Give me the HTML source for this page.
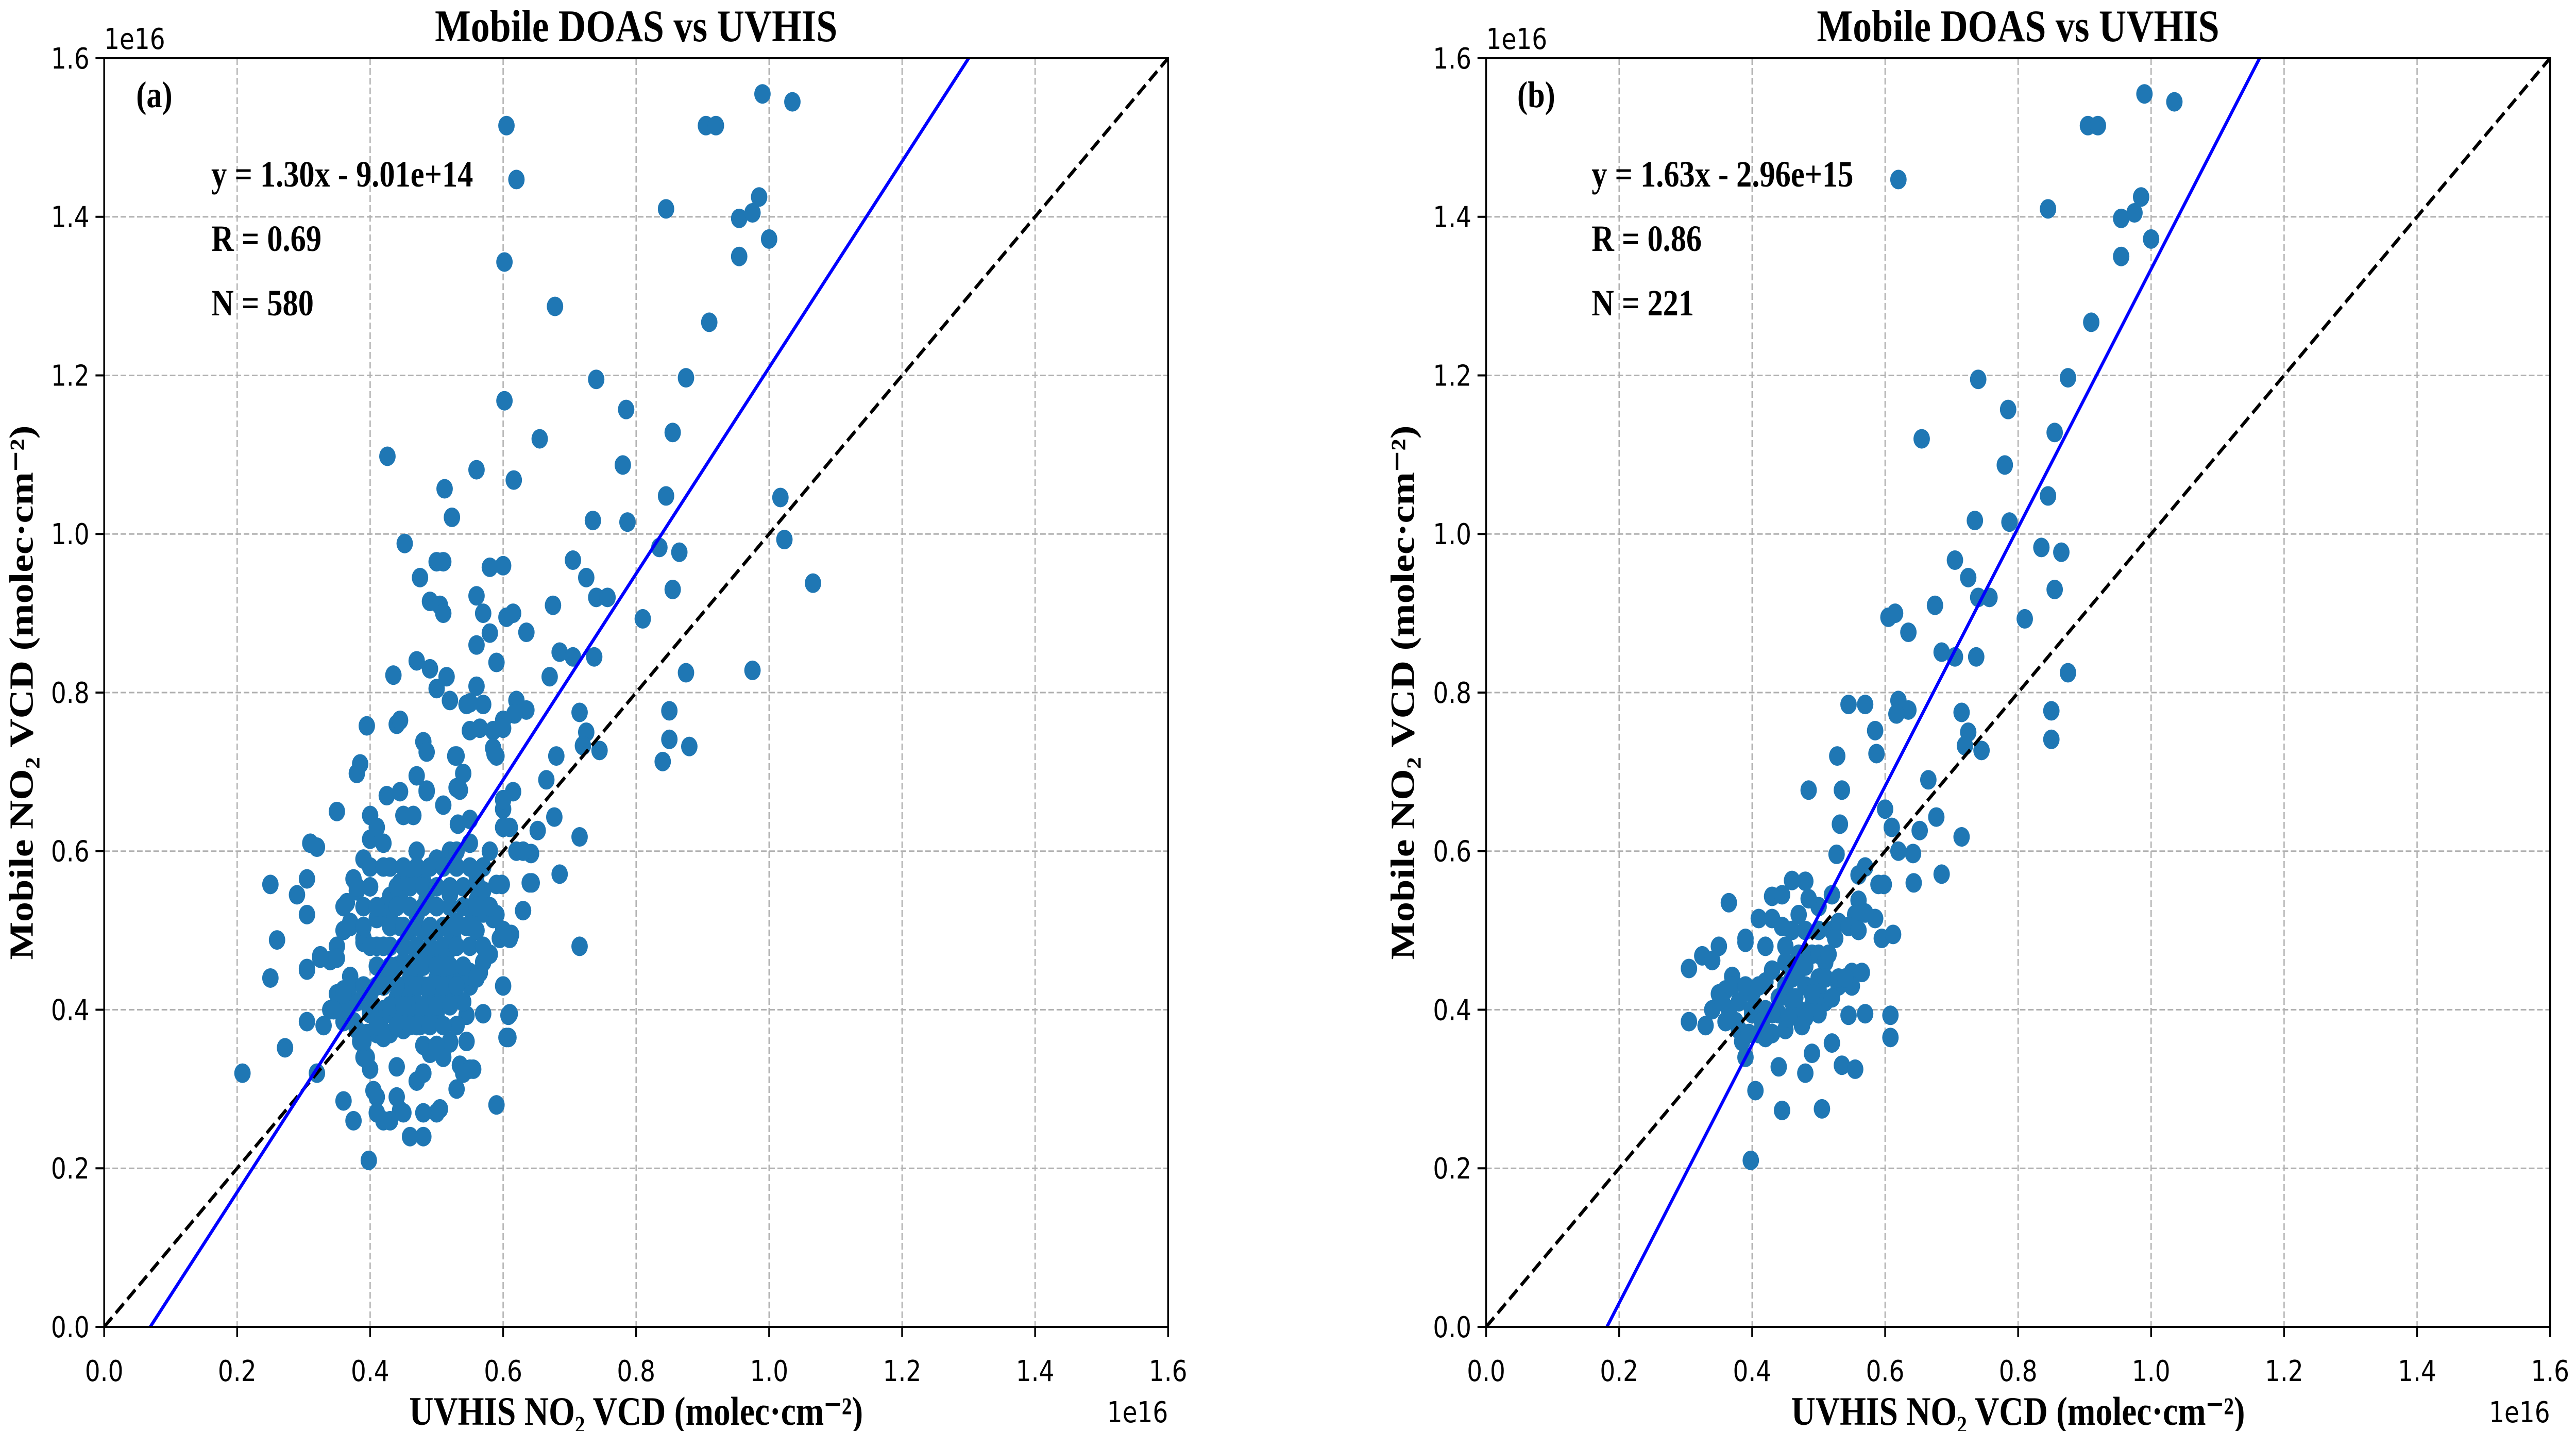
<!DOCTYPE html>
<html><head><meta charset="utf-8">
<style>
html,body{margin:0;padding:0;background:#fff;width:100%;height:100%;overflow:hidden;}
svg{display:block;position:absolute;left:0;top:0;width:100vw;height:100vh;}
.tick{font-family:"DejaVu Sans","Liberation Sans",sans-serif;font-size:56px;fill:#000;}
.ser{font-family:"Liberation Serif",serif;font-weight:bold;fill:#000;}
</style></head>
<body>
<svg id="chart" viewBox="0 0 5961 2777" preserveAspectRatio="none" xmlns="http://www.w3.org/2000/svg"></svg>
<script>
// ---- data (units of 1e16 molec/cm2) ----
const ticks = [0.0,0.2,0.4,0.6,0.8,1.0,1.2,1.4,1.6];
const tickLabels = ["0.0","0.2","0.4","0.6","0.8","1.0","1.2","1.4","1.6"];
const fitA = {slope:1.30, intercept:-0.0901};
const fitB = {slope:1.63, intercept:-0.296};
const eqA = ["y = 1.30x - 9.01e+14","R = 0.69","N = 580"];
const eqB = ["y = 1.63x - 2.96e+15","R = 0.86","N = 221"];
const bX = [0.99,1.035,0.905,0.92,0.62,0.845,0.985,0.955,0.975,1.0,0.955,0.91,0.74,0.875,0.785,0.655,0.855,0.78,0.845,0.735,0.787,0.835,0.865,0.705,0.725,0.855,0.74,0.757,0.605,0.615,0.675,0.81,0.635,0.685,0.705,0.737,0.875,0.545,0.57,0.62,0.635,0.617,0.715,0.85,0.585,0.725,0.85,0.72,0.745,0.587,0.528,0.665,0.485,0.535,0.6,0.677,0.532,0.61,0.652,0.715,0.62,0.642,0.527,0.57,0.56,0.685,0.59,0.598,0.643,0.48,0.46,0.365,0.43,0.445,0.52,0.56,0.585,0.555,0.57,0.41,0.43,0.445,0.46,0.52,0.53,0.545,0.56,0.595,0.612,0.39,0.39,0.35,0.42,0.325,0.34,0.305,0.49,0.5,0.51,0.47,0.55,0.565,0.37,0.42,0.36,0.35,0.45,0.48,0.5,0.53,0.55,0.4,0.44,0.46,0.49,0.51,0.52,0.38,0.365,0.34,0.36,0.33,0.305,0.4,0.42,0.44,0.47,0.5,0.545,0.57,0.608,0.38,0.41,0.43,0.45,0.48,0.385,0.42,0.52,0.608,0.39,0.49,0.44,0.48,0.535,0.555,0.405,0.445,0.505,0.398,0.37,0.39,0.41,0.46,0.47,0.48,0.5,0.51,0.53,0.43,0.455,0.475,0.49,0.5,0.5,0.485,0.47,0.45,0.4,0.395,0.465,0.515,0.525,0.54,0.355,0.375,0.415,0.43,0.45,0.48];
const bY = [1.555,1.545,1.515,1.515,1.447,1.41,1.425,1.398,1.405,1.372,1.35,1.267,1.195,1.197,1.157,1.12,1.128,1.087,1.048,1.017,1.015,0.983,0.977,0.967,0.945,0.93,0.92,0.92,0.895,0.9,0.91,0.893,0.876,0.851,0.845,0.845,0.825,0.785,0.785,0.79,0.778,0.773,0.775,0.777,0.752,0.75,0.741,0.733,0.727,0.723,0.72,0.69,0.677,0.677,0.653,0.643,0.634,0.63,0.626,0.618,0.6,0.597,0.596,0.58,0.57,0.571,0.558,0.558,0.56,0.562,0.563,0.535,0.543,0.545,0.545,0.538,0.515,0.52,0.522,0.515,0.515,0.505,0.5,0.5,0.51,0.505,0.5,0.49,0.495,0.49,0.485,0.48,0.48,0.468,0.462,0.452,0.47,0.47,0.46,0.45,0.447,0.447,0.442,0.435,0.425,0.42,0.43,0.43,0.425,0.43,0.43,0.42,0.415,0.41,0.405,0.41,0.415,0.41,0.4,0.4,0.385,0.38,0.385,0.395,0.4,0.395,0.4,0.395,0.393,0.395,0.393,0.375,0.37,0.37,0.375,0.39,0.36,0.365,0.358,0.365,0.34,0.345,0.328,0.32,0.33,0.325,0.298,0.273,0.275,0.21,0.43,0.43,0.43,0.44,0.47,0.5,0.44,0.44,0.44,0.45,0.39,0.38,0.42,0.5,0.53,0.54,0.52,0.46,0.4,0.37,0.415,0.47,0.49,0.44,0.41,0.385,0.385,0.395,0.48,0.455];
const aExtraX = [0.605,0.602,0.678,0.602,0.426,0.616,0.512,0.56,0.452,0.523,0.975,1.017,1.023,1.066,0.84,0.88,0.715,0.208,0.25,0.26,0.25,0.272,0.29,0.305,0.31,0.32,0.305,0.305,0.32,0.325,0.475,0.49,0.5,0.51,0.505,0.51,0.56,0.58,0.6,0.57,0.58,0.56,0.59,0.47,0.49,0.435,0.5,0.515,0.52,0.56,0.55,0.395,0.44,0.445,0.55,0.565,0.6,0.6,0.48,0.485,0.585,0.59,0.53,0.67,0.68,0.6,0.615,0.47,0.54,0.38,0.385,0.425,0.445,0.485,0.53,0.51,0.45,0.465,0.4,0.35,0.55,0.6,0.63,0.64,0.63,0.61,0.6,0.61,0.605,0.59,0.55,0.53,0.5,0.48,0.46,0.48,0.43,0.42,0.41,0.375,0.36,0.4,0.395,0.41,0.44,0.45,0.47,0.48,0.51,0.52,0.54,0.545,0.345,0.36,0.35,0.36,0.37,0.36,0.38,0.375,0.39,0.4,0.41,0.42,0.43,0.445,0.47,0.5,0.52,0.53,0.55,0.56,0.57,0.57,0.58,0.59,0.6,0.58,0.57,0.56,0.54,0.53,
0.39,0.41,0.43,0.45,0.47,0.49,0.51,0.53,0.55,0.57,0.4,0.42,0.44,0.46,0.48,0.5,0.52,0.54,0.56,0.38,0.4,0.42,0.44,0.46,0.48,0.5,0.52,0.54,0.56,0.58,0.39,0.41,0.43,0.45,0.47,0.49,0.51,0.53,0.55,0.37,0.39,0.41,0.43,0.45,0.47,0.49,0.51,0.53,0.55,0.57,0.4,0.42,0.44,0.46,0.48,0.5,0.52,0.54,0.41,0.43,0.45,0.47,0.49,0.51,0.53,0.42,0.44,0.46,0.48,0.5,0.52,0.43,0.45,0.47,0.49,0.51,0.44,0.46,0.48,0.5];
const aExtraY = [1.515,1.343,1.287,1.168,1.098,1.068,1.057,1.081,0.988,1.021,0.828,1.046,0.993,0.938,0.713,0.732,0.48,0.32,0.558,0.488,0.44,0.352,0.545,0.565,0.61,0.605,0.52,0.45,0.32,0.465,0.945,0.915,0.965,0.965,0.91,0.9,0.922,0.958,0.96,0.9,0.875,0.86,0.838,0.84,0.83,0.822,0.805,0.82,0.79,0.808,0.787,0.758,0.76,0.765,0.752,0.755,0.765,0.755,0.738,0.725,0.73,0.72,0.72,0.82,0.72,0.665,0.675,0.695,0.698,0.698,0.71,0.67,0.675,0.675,0.68,0.658,0.645,0.645,0.645,0.65,0.64,0.63,0.6,0.56,0.525,0.49,0.43,0.395,0.365,0.28,0.325,0.3,0.27,0.24,0.24,0.27,0.26,0.26,0.29,0.26,0.285,0.325,0.34,0.27,0.29,0.27,0.31,0.32,0.34,0.36,0.32,0.36,0.4,0.42,0.465,0.5,0.51,0.53,0.55,0.565,0.59,0.615,0.63,0.61,0.58,0.56,0.6,0.59,0.6,0.6,0.61,0.56,0.55,0.58,0.6,0.52,0.5,0.47,0.46,0.44,0.41,0.38,0.36,0.38,
0.58,0.58,0.58,0.58,0.58,0.58,0.58,0.58,0.58,0.58,0.555,0.555,0.555,0.555,0.555,0.555,0.555,0.555,0.555,0.53,0.53,0.53,0.53,0.53,0.53,0.53,0.53,0.53,0.53,0.53,0.505,0.505,0.505,0.505,0.505,0.505,0.505,0.505,0.505,0.48,0.48,0.48,0.48,0.48,0.48,0.48,0.48,0.48,0.48,0.48,0.455,0.455,0.455,0.455,0.455,0.455,0.455,0.455,0.43,0.43,0.43,0.43,0.43,0.43,0.43,0.405,0.405,0.405,0.405,0.405,0.405,0.38,0.38,0.38,0.38,0.38,0.355,0.355,0.355,0.355];

const NS = "http://www.w3.org/2000/svg";
const svg = document.getElementById('chart');
function mk(tag, attrs, parent){
  const e = document.createElementNS(NS, tag);
  for (const k in attrs) e.setAttribute(k, attrs[k]);
  (parent||svg).appendChild(e);
  return e;
}
const SIZE = 2462, Y0 = 113, MAXV = 1.6;

function panel(x0, letter, xs, ys, fit, eq, ylabX, id){
  const g = mk('g', {});
  
  
  const sx = v => x0 + v / MAXV * SIZE;
  const sy = v => Y0 + SIZE - v / MAXV * SIZE;
  const cp = mk('clipPath', {id: 'clip' + id}, g);
  mk('rect', {x: x0, y: Y0, width: SIZE, height: SIZE}, cp);
  ticks.forEach((t, i) => {
    if (i > 0 && i < ticks.length - 1) {
      const gx = mk('line', {x1: sx(t), x2: sx(t), y1: Y0, y2: Y0 + SIZE, stroke: '#b0b0b0', 'stroke-width': 3, 'stroke-dasharray': '13,6'}, g);
      
      
      const gy = mk('line', {x1: x0, x2: x0 + SIZE, y1: sy(t), y2: sy(t), stroke: '#b0b0b0', 'stroke-width': 3, 'stroke-dasharray': '13,6'}, g);
      
      
    }
    mk('line', {x1: sx(t), x2: sx(t), y1: Y0 + SIZE, y2: Y0 + SIZE + 20, stroke: '#000', 'stroke-width': 4}, g);
    mk('line', {x1: x0 - 20, x2: x0, y1: sy(t), y2: sy(t), stroke: '#000', 'stroke-width': 4}, g);
    const tx = mk('text', {x: sx(t), y: Y0 + SIZE + 105, 'text-anchor': 'middle', class: 'tick'}, g);
    tx.textContent = tickLabels[i];
    
    
    const ty = mk('text', {x: x0 - 34, y: sy(t) + 20, 'text-anchor': 'end', class: 'tick'}, g);
    ty.textContent = tickLabels[i];
    
    
  });
  const pg = mk('g', {'clip-path': 'url(#clip' + id + ')'}, g);
  for (let i = 0; i < xs.length; i++) {
    const c = mk('circle', {cx: sx(xs[i]), cy: sy(ys[i]), r: 19, fill: '#1f77b4'}, pg);
    
    
  }
  const one = mk('line', {x1: sx(0), y1: sy(0), x2: sx(MAXV), y2: sy(MAXV), stroke: '#000', 'stroke-width': 7, 'stroke-dasharray': '26,12'}, pg);
  
  
  const xa = -fit.intercept / fit.slope, xb = (MAXV - fit.intercept) / fit.slope;
  const fl = mk('line', {x1: sx(xa), y1: sy(0), x2: sx(xb), y2: sy(MAXV), stroke: '#0000ff', 'stroke-width': 7}, pg);
  
  
  const fr = mk('rect', {x: x0, y: Y0, width: SIZE, height: SIZE, fill: 'none', stroke: '#000', 'stroke-width': 4}, g);
  
  
  const ti = mk('text', {x: x0 + SIZE / 2, y: 80, 'text-anchor': 'middle', class: 'ser', 'font-size': 88}, g);
  ti.textContent = 'Mobile DOAS vs UVHIS';
  
  
  const pl = mk('text', {x: x0 + 116, y: 208, 'text-anchor': 'middle', class: 'ser', 'font-size': 72}, g);
  pl.textContent = '(' + letter + ')';
  
  
  const ex = letter === 'a' ? x0 + 248 : x0 + 244;
  eq.forEach((s, k) => {
    const et = mk('text', {x: ex, y: 362 + k * 125, class: 'ser', 'font-size': 72}, g);
    et.textContent = s;
    
    
  });
  const xl = mk('text', {x: x0 + SIZE / 2, y: 2765, 'text-anchor': 'middle', class: 'ser', 'font-size': 78}, g);
  xl.textContent = 'UVHIS NO₂ VCD (molec·cm⁻²)';
  
  
  const yl = mk('text', {x: 0, y: 0, 'text-anchor': 'middle', class: 'ser', 'font-size': 78, transform: 'translate(' + ylabX + ',' + (Y0 + SIZE / 2) + ') rotate(-90)'}, g);
  yl.textContent = 'Mobile NO₂ VCD (molec·cm⁻²)';
  
  
  const o1 = mk('text', {x: x0, y: 95, class: 'tick'}, g);
  o1.textContent = '1e16';
  
  
  const o2 = mk('text', {x: x0 + SIZE, y: 2760, 'text-anchor': 'end', class: 'tick'}, g);
  o2.textContent = '1e16';
  
  
}
panel(241, 'a', bX.concat(aExtraX), bY.concat(aExtraY), fitA, eqA, 76, 'a');
panel(3439, 'b', bX, bY, fitB, eqB, 3272, 'b');
</script>
</body></html>
